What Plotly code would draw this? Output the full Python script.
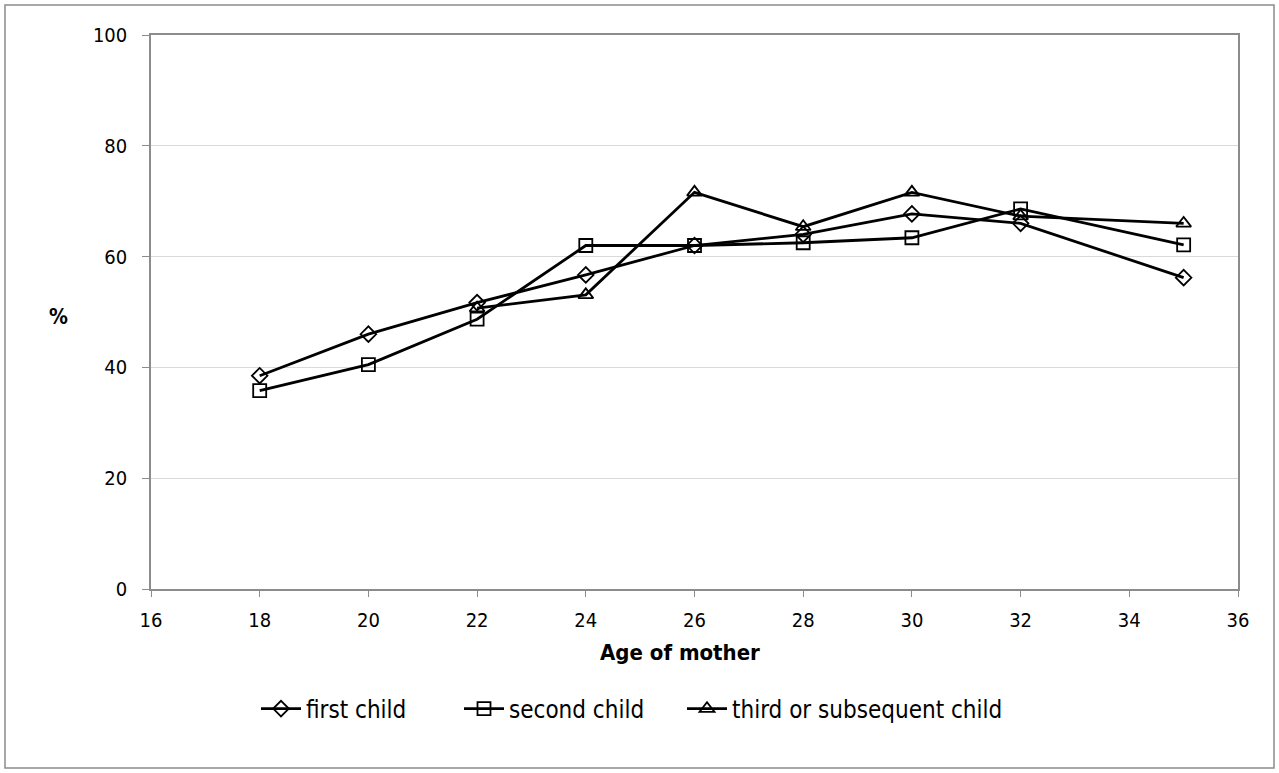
import plotly.graph_objects as go

ages = [18, 20, 22, 24, 26, 28, 30, 32, 35]
first_child = [38.5, 46.0, 51.7, 56.7, 62.0, 64.0, 67.7, 66.0, 56.2]
second_child = [35.8, 40.5, 48.7, 62.0, 62.0, 62.5, 63.4, 68.6, 62.1]
third_ages = [22, 24, 26, 28, 30, 32, 35]
third_child = [50.7, 53.1, 71.6, 65.4, 71.6, 67.3, 66.0]

font_family = "'DejaVu Sans Condensed', Roboto, sans-serif"
W, H = 1279, 773
L, R, T, B = 151, 41, 35, 184
pw = W - L - R
ph = H - T - B

fig = go.Figure()
line = dict(color="black", width=2.8)
fig.add_trace(go.Scatter(x=ages, y=first_child, mode="lines+markers", name="first child", legend="legend",
                         line=line, marker=dict(symbol="diamond-open", size=12, color="black", line=dict(width=1.8))))
fig.add_trace(go.Scatter(x=ages, y=second_child, mode="lines+markers", name="second child", legend="legend2",
                         line=line, marker=dict(symbol="square-open", size=13, color="black", line=dict(width=1.8))))
fig.add_trace(go.Scatter(x=third_ages, y=third_child, mode="lines+markers", name="third or subsequent child",
                         legend="legend3",
                         line=line, marker=dict(symbol="triangle-up-open", size=13, color="black", line=dict(width=1.8))))

def px2x(p):
    return (p - L) / pw

def px2y(p):
    return (H - B - p) / ph

def leg(xpx):
    return dict(orientation="h", x=px2x(xpx), xanchor="left", y=px2y(709), yanchor="middle",
                font=dict(size=24), itemwidth=40, bgcolor="rgba(0,0,0,0)")

fig.update_layout(
    width=W, height=H,
    margin=dict(l=L, r=R, t=T, b=B),
    paper_bgcolor="white", plot_bgcolor="white",
    font=dict(family=font_family, size=20, color="black"),
    showlegend=True,
    legend=leg(256), legend2=leg(459), legend3=leg(682),
    xaxis=dict(range=[16, 36], tickmode="linear", tick0=16, dtick=2,
               showgrid=False, zeroline=False,
               showline=True, linecolor="#8c8c8c", linewidth=1.5, mirror=True,
               ticks="outside", ticklen=6, tickcolor="#8c8c8c",
               ticklabelstandoff=6,
               tickfont=dict(size=20)),
    yaxis=dict(range=[0, 100], tickmode="linear", tick0=0, dtick=20,
               showgrid=True, gridcolor="#d9d9d9", gridwidth=1.2, zeroline=False,
               showline=True, linecolor="#8c8c8c", linewidth=1.5, mirror=True,
               ticks="outside", ticklen=7, tickcolor="#8c8c8c",
               ticklabelstandoff=11,
               tickfont=dict(size=20)),
    annotations=[
        dict(text="<b>%</b>", x=px2x(58), y=px2y(317), xref="paper", yref="paper",
             showarrow=False, font=dict(size=21), xanchor="center", yanchor="middle"),
        dict(text="<b>Age of mother</b>", x=px2x(680), y=px2y(652), xref="paper", yref="paper",
             showarrow=False, font=dict(size=22), xanchor="center", yanchor="middle"),
    ],
    shapes=[dict(type="rect", xref="paper", yref="paper",
                 x0=px2x(5), x1=px2x(1274), y0=px2y(768), y1=px2y(5),
                 line=dict(color="#8c8c8c", width=1.5), fillcolor="rgba(0,0,0,0)", layer="below")],
)

fig.write_html("out.html")
